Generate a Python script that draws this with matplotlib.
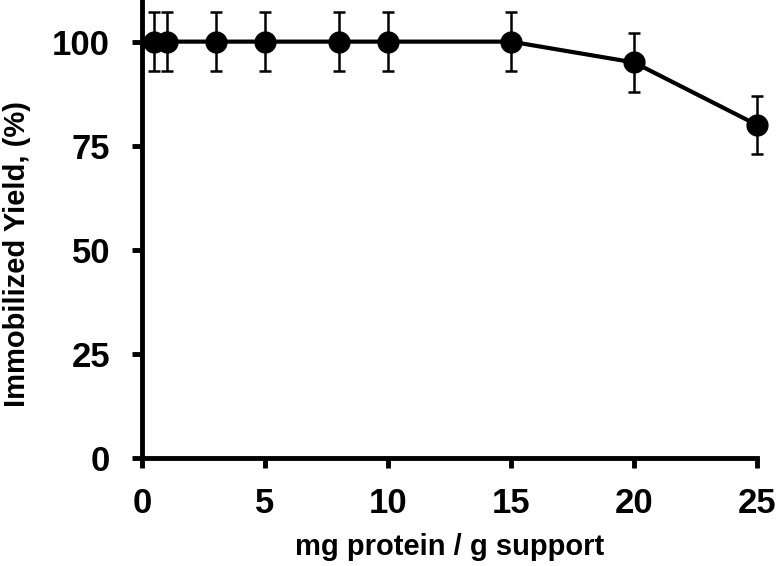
import matplotlib
matplotlib.use("Agg")
import matplotlib.pyplot as plt

plt.rcParams['font.family'] = ['Liberation Sans', 'DejaVu Sans']
plt.rcParams['font.weight'] = 'bold'

# data
protein_load = [0.5, 1, 3, 5, 8, 10, 15, 20, 25]
yield_pct = [100, 100, 100, 100, 100, 100, 100, 95, 80]
yield_err = [7, 7, 7, 7, 7, 7, 7, 7, 7]

fig = plt.figure(figsize=(7.78, 5.66), dpi=100)
ax = fig.add_axes([0.1825, 0.191, 0.7905, 0.809])

ax.errorbar(protein_load, yield_pct, yerr=yield_err, color='black',
            linewidth=3, marker='o', markersize=15, elinewidth=1.8,
            capsize=4, capthick=1.8, clip_on=False, zorder=3)

ax.set_xlim(0, 25)
ax.set_ylim(0, 110)
ax.set_xticks([0, 5, 10, 15, 20, 25])
ax.set_yticks([0, 25, 50, 75, 100])

for side in ['top', 'right']:
    ax.spines[side].set_visible(False)
for side in ['left', 'bottom']:
    ax.spines[side].set_linewidth(3.5)

ax.tick_params(width=3.5, length=7, direction='out', labelsize=25)
ax.tick_params(axis='y', pad=16)
ax.tick_params(axis='x', pad=14)
for lab in ax.get_xticklabels() + ax.get_yticklabels():
    lab.set_fontweight('bold')

ax.set_xlabel("mg protein / g support", fontsize=21, fontweight='bold', labelpad=9)
ax.set_ylabel("Immobilized Yield, (%)", fontsize=21, fontweight='bold')
# label sits a bit below the axis middle in the original
ax.yaxis.set_label_coords(-0.18, 0.445)

fig.savefig("out.png", dpi=100)
